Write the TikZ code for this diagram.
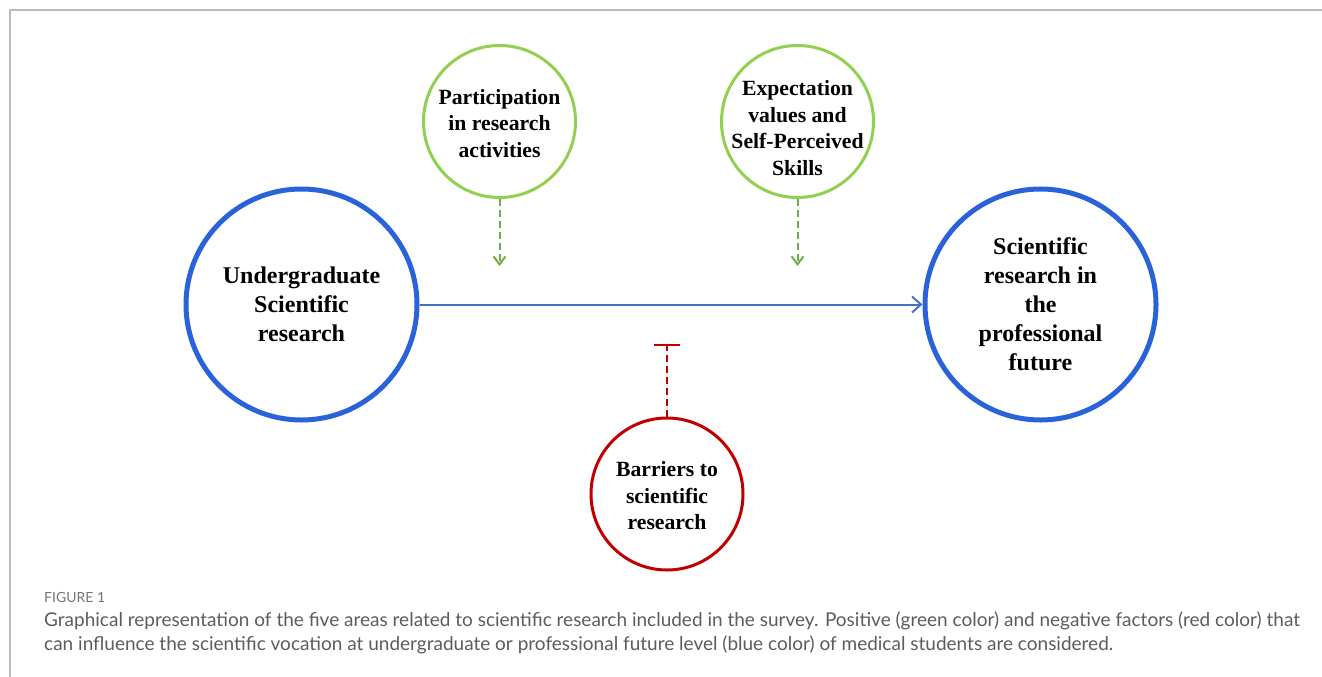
\documentclass[tikz,border=0pt]{standalone}
\usepackage{fontspec}
\setmainfont{Liberation Serif}
\newfontfamily\captionfont{Lato}
\usetikzlibrary{arrows.meta}

\definecolor{circblue}{HTML}{2962D9}
\definecolor{lineblue}{HTML}{4472C4}
\definecolor{circgreen}{HTML}{92D050}
\definecolor{dashgreen}{HTML}{70AD47}
\definecolor{circred}{HTML}{C00000}
\definecolor{framegray}{HTML}{BBBBBB}
\definecolor{textgray}{HTML}{5C5C5C}

\begin{document}
\begin{tikzpicture}[
    x=1pt, y=-1pt,
    bigcircle/.style={
        circle,
        draw=circblue,
        line width=5pt,
        minimum size=231pt,
        inner sep=0pt,
        align=center,
        font=\bfseries\fontsize{24}{29}\selectfont
    },
    smallcircle/.style={
        circle,
        line width=3pt,
        minimum size=152pt,
        inner sep=0pt
    },
    % text of a small circle, kept out of the circle size
    smalltext/.style={
        align=center,
        inner sep=0pt,
        font=\bfseries\fontsize{21.7}{26.5}\selectfont
    },
    arrow/.style={-{Straight Barb[length=9pt,width=16pt]}, draw=lineblue, line width=2pt},
    posarrow/.style={-{Straight Barb[length=8pt,width=12pt]}, draw=dashgreen, line width=2pt,
        dash pattern=on 7pt off 4pt},
    negarrow/.style={-{Bar[width=26pt,line width=2pt]}, draw=circred, line width=2pt,
        dash pattern=on 7pt off 4pt}
]

\useasboundingbox (0,0) rectangle (1322,677);

% outer frame
\draw[framegray, line width=2pt] (9.5,677) -- (9.5,10.5) -- (1322,10.5);

\node[bigcircle] (undergrad) at (301.5,304.5) {Undergraduate\\Scientific\\research};
\node[bigcircle] (future) at (1040.5,304.5) {Scientific\\research in\\the\\professional\\future};

\node[smallcircle, draw=circgreen,
      label={[smalltext, yshift=-2pt]center:Participation\\in research\\activities}]
    (participation) at (499.5,121.5) {};
\node[smallcircle, draw=circgreen,
      label={[smalltext, yshift=-6.5pt]center:Expectation\\values and\\Self-Perceived\\Skills}]
    (expectation) at (797.5,121.5) {};
\node[smallcircle, draw=circred,
      label={[smalltext, yshift=-2pt]center:Barriers to\\scientific\\research}]
    (barriers) at (667,494) {};

\coordinate (participation end) at (499.5,266);
\coordinate (expectation end) at (797.5,266);
\coordinate (barriers end) at (667,344);

\draw[arrow] (undergrad.east) -- (future.west);
\draw[posarrow] (participation.south) -- (participation end);
\draw[posarrow] (expectation.south) -- (expectation end);
\draw[negarrow] (barriers.north) -- (barriers end);

% caption
\node[anchor=base west, inner sep=0pt, text=textgray!85, font=\captionfont\fontsize{14}{16}\selectfont]
    (figlabel) at (44,602) {FIGURE 1};
\node[anchor=base west, inner sep=0pt, align=left, text=textgray,
      font=\captionfont\fontsize{19}{24}\selectfont] (caption) at (44,650)
    {Graphical representation of the five areas related to scientific research included in the survey. Positive (green color) and negative factors (red color) that\\
     can influence the scientific vocation at undergraduate or professional future level (blue color) of medical students are considered.};

\end{tikzpicture}
\end{document}
